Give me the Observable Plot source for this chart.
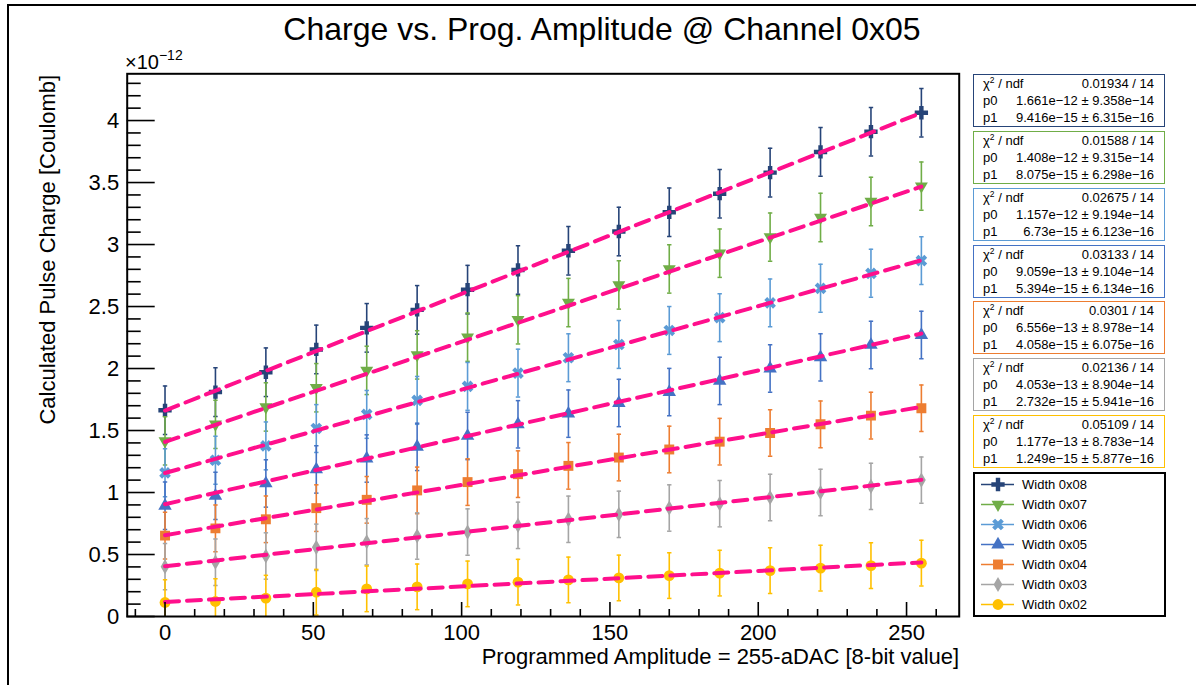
<!DOCTYPE html>
<html><head><meta charset="utf-8">
<script src="https://cdn.jsdelivr.net/npm/d3@7"></script>
<script src="https://cdn.jsdelivr.net/npm/@observablehq/plot@0.6"></script>
<style>
body{margin:0;background:#fff;font-family:"Liberation Sans",Arial,Helvetica,sans-serif;}
#wrap{position:relative;width:1196px;height:685px;overflow:hidden;background:#fff;}
#pad{position:absolute;left:7px;top:4px;width:1300px;height:800px;border-left:2px solid #000;border-top:2px solid #000;box-sizing:border-box;}
#title{position:absolute;left:0;top:11px;width:1204px;text-align:center;font-size:32px;color:#000;white-space:nowrap;}
#exp{position:absolute;left:125px;top:48px;font-size:20px;color:#000;}
#exp sup{font-size:14px;position:relative;top:-1px;}
.stat{position:absolute;left:973px;width:192px;height:53px;box-sizing:border-box;border:1.5px solid #000;background:#fff;font-size:13px;color:#000;padding:0 10px 0 9px;}
.stat .row{display:flex;justify-content:space-between;height:17px;line-height:17px;white-space:nowrap;}
.stat sup{font-size:8.5px;vertical-align:top;position:relative;top:-3px;}
#legend{position:absolute;left:973px;top:472px;width:193px;height:145px;box-sizing:border-box;border:2px solid #000;background:#fff;}
#main{position:absolute;left:0;top:0;}
</style></head><body>
<div id="wrap"><div id="pad"></div><div id="main"></div>
<div id="title">Charge vs. Prog. Amplitude @ Channel 0x05</div>
<div id="exp">×10<sup>−12</sup></div>
<div id="legend"></div>
</div>
<script>
// x values: programmed amplitude
const amplitude = [0,17,34,51,68,85,102,119,136,153,170,187,204,221,238,255];
const seriesNames = ["Width 0x08","Width 0x07","Width 0x06","Width 0x05","Width 0x04","Width 0x03","Width 0x02"];
const seriesColors = ["#264478","#70ad47","#5b9bd5","#4472c4","#ed7d31","#a5a5a5","#ffc000"];
const seriesSymbols = ["cross","triangle","cross","triangle","square","diamond","circle"];
const seriesRotate = [0,180,45,0,0,0,0];
const seriesRadius = [5.6,4.8,5.2,5.0,5.6,4.6,5.4];
// charge values (×1e-12 C)
const w08 = [1.663,1.81,1.97,2.154,2.328,2.473,2.636,2.795,2.95,3.105,3.26,3.41,3.58,3.747,3.91,4.063];
const w07 = [1.416,1.55,1.69,1.845,1.985,2.11,2.253,2.393,2.532,2.674,2.803,2.93,3.06,3.218,3.347,3.471];
const w06 = [1.159,1.26,1.376,1.516,1.63,1.743,1.856,1.963,2.087,2.194,2.307,2.41,2.53,2.647,2.768,2.87];
const w05 = [0.893,0.973,1.073,1.186,1.274,1.368,1.456,1.55,1.636,1.722,1.81,1.90,2.00,2.09,2.19,2.27];
const w04 = [0.652,0.711,0.784,0.874,0.941,1.017,1.084,1.148,1.215,1.282,1.347,1.41,1.48,1.55,1.62,1.68];
const w03 = [0.402,0.438,0.488,0.558,0.603,0.649,0.681,0.735,0.784,0.824,0.875,0.91,0.96,1.00,1.05,1.10];
const w02 = [0.113,0.121,0.148,0.196,0.223,0.239,0.263,0.277,0.295,0.311,0.33,0.35,0.37,0.39,0.41,0.43];
const seriesValues = [w08,w07,w06,w05,w04,w03,w02];
// symmetric errors per series (×1e-12 C)
const seriesErrors = [0.196,0.195,0.193,0.191,0.188,0.187,0.184];
// fit statistics
const chi2 = ["0.01934 / 14","0.01588 / 14","0.02675 / 14","0.03133 / 14","0.0301 / 14","0.02136 / 14","0.05109 / 14"];
const p0 = ["1.661e-12","1.408e-12","1.157e-12","9.059e-13","6.556e-13","4.053e-13","1.177e-13"];
const p0err = ["9.358e-14","9.315e-14","9.194e-14","9.104e-14","8.978e-14","8.904e-14","8.783e-14"];
const p1 = ["9.416e-15","8.075e-15","6.73e-15","5.394e-15","4.058e-15","2.732e-15","1.249e-15"];
const p1err = ["6.315e-16","6.298e-16","6.123e-16","6.134e-16","6.075e-16","5.941e-16","5.877e-16"];
const yMajor = [0,0.5,1,1.5,2,2.5,3,3.5,4];
const yMinor = d3.range(0,44).map(i=>i/10).filter(v=>Math.abs(v*2-Math.round(v*2))>1e-6);
const xMajor = [0,50,100,150,200,250];
const xMinor = d3.range(-10,270,10).filter(v=>v%50!==0);
const fitColor = "#ff0f8c";
const fitRange = [0,255];

const cap = {draw(ctx,size){const w=Math.sqrt(size/Math.PI);ctx.moveTo(-w,0);ctx.lineTo(w,0);}};
const font = '"Liberation Sans",Arial,Helvetica,sans-serif';

const marks = [];
seriesNames.forEach((name,i)=>{
  const rows = amplitude.map((x,j)=>({x, y: seriesValues[i][j], e: seriesErrors[i]}));
  const col = seriesColors[i];
  marks.push(Plot.ruleX(rows,{x:"x",y1:d=>d.y-d.e,y2:d=>d.y+d.e,stroke:col,strokeWidth:1.6,clip:true}));
  marks.push(Plot.dot(rows,{x:"x",y:d=>d.y+d.e,symbol:cap,r:2.2,stroke:col,fill:"none",strokeWidth:1.5,clip:true}));
  marks.push(Plot.dot(rows,{x:"x",y:d=>d.y-d.e,symbol:cap,r:2.2,stroke:col,fill:"none",strokeWidth:1.5,clip:true}));
  marks.push(Plot.dot(rows,{x:"x",y:"y",symbol:seriesSymbols[i],r:seriesRadius[i],rotate:seriesRotate[i],fill:col,stroke:"none",clip:true}));
});
seriesNames.forEach((name,i)=>{
  const a=parseFloat(p0[i]), b=parseFloat(p1[i]);
  const fit = fitRange.map(x=>({x, y:(a+b*x)*1e12}));
  marks.push(Plot.line(fit,{x:"x",y:"y",stroke:fitColor,strokeWidth:4,strokeDasharray:"14,8",clip:true}));
});

const chart = Plot.plot({
  width:1196, height:685,
  marginLeft:126.7, marginRight:237.3, marginTop:73.3, marginBottom:69,
  style:{fontFamily:font,fontSize:"22px",color:"#000",background:"transparent",overflow:"visible"},
  x:{domain:[-12.75,267.75]},
  y:{domain:[0,4.377]},
  marks:[
    ...marks,
    Plot.axisY(yMinor,{tickSize:-14,fill:"none",label:null,strokeWidth:1.6}),
    Plot.axisY(yMajor,{tickSize:-28,fill:"none",label:null,strokeWidth:1.6}),
    Plot.axisY(yMajor,{tickSize:0,tickPadding:8,label:null,tickFormat:d=>String(d),fill:"#000"}),
    Plot.axisX(xMinor,{tickSize:-7,fill:"none",label:null,strokeWidth:1.6}),
    Plot.axisX(xMajor,{tickSize:0,tickPadding:8,label:null,tickFormat:d=>String(d),fill:"#000"}),
    Plot.axisX(xMajor,{tickSize:-14,fill:"none",label:null,strokeWidth:1.6}),
    Plot.frame({stroke:"#000",strokeWidth:2}),
    Plot.text(["Programmed Amplitude = 255-aDAC [8-bit value]"],{frameAnchor:"bottom-right",textAnchor:"end",dy:47,fontSize:22,fill:"#000"}),
    Plot.text(["Calculated Pulse Charge [Coulomb]"],{frameAnchor:"top-left",textAnchor:"end",rotate:-90,dx:-88,dy:1,fontSize:22,fill:"#000"})
  ]
});
document.getElementById("main").appendChild(chart);

// stats boxes
const wrap = document.getElementById("wrap");
const fmt = s=>s.replace(/-/g,"−");
seriesNames.forEach((name,i)=>{
  const box = document.createElement("div");
  box.className="stat";
  box.style.top = (74 + i*56.85)+"px";
  box.style.borderColor = seriesColors[i];
  box.innerHTML = `<div class="row"><span>χ<sup>2</sup> / ndf</span><span>${chi2[i]}</span></div>`+
    `<div class="row"><span>p0</span><span>${fmt(p0[i])} ± ${fmt(p0err[i])}</span></div>`+
    `<div class="row"><span>p1</span><span>${fmt(p1[i])} ± ${fmt(p1err[i])}</span></div>`;
  wrap.appendChild(box);
});

// legend
const legendRows = seriesNames.map((name,i)=>({name,i}));
const legend = Plot.plot({
  width:189, height:141, margin:0,
  style:{fontFamily:font,background:"transparent",overflow:"visible"},
  x:{domain:[0,189],range:[0,189],axis:null},
  y:{type:"point",domain:seriesNames,range:[9.5,130.5],padding:0,axis:null},
  marks:[
    Plot.ruleY(legendRows,{y:"name",x1:6,x2:39,stroke:d=>seriesColors[d.i],strokeWidth:1.6}),
    ...legendRows.map(d=>Plot.dot([d],{x:22.5,y:"name",symbol:seriesSymbols[d.i],r:seriesRadius[d.i],rotate:seriesRotate[d.i],fill:seriesColors[d.i],stroke:"none"})),
    Plot.text(legendRows,{x:46.5,y:"name",text:"name",textAnchor:"start",fontSize:13,fill:"#000"})
  ]
});
document.getElementById("legend").appendChild(legend);
</script>
</body></html>
